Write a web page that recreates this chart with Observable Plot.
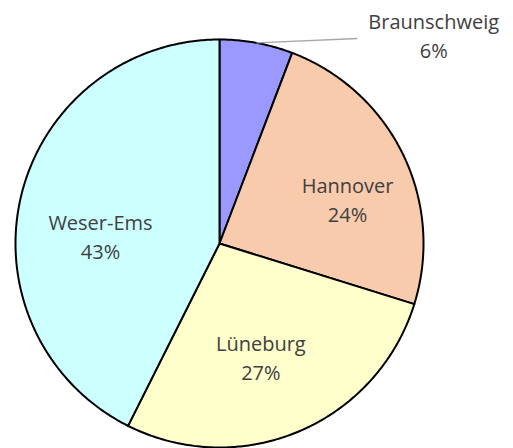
<!DOCTYPE html>
<html>
<head>
<meta charset="utf-8">
<script src="https://cdn.jsdelivr.net/npm/d3@7"></script>
<script src="https://cdn.jsdelivr.net/npm/@observablehq/plot@0.6"></script>
<style>
  html, body { margin: 0; padding: 0; background: #fff; }
  #chart svg { display: block; }
</style>
</head>
<body>
<div id="chart"></div>
<script>
// ---- data ----
const regions = ["Braunschweig", "Hannover", "Lüneburg", "Weser-Ems"];
const shares = [5.8, 24.0, 27.6, 42.6];
const shareLabels = ["6%", "24%", "27%", "43%"];
const colors = ["#9999FF", "#F8CBAD", "#FFFFCC", "#CCFFFF"];

// ---- layout (styles / positions) ----
const W = 513, H = 448;
const CX = 219, CY = 243, R = 204;
const labelRadius = 0.62;
const nudge = { // in radius units (x right, y up)
  "Hannover": [0.07, -0.05],
  "Lüneburg": [-0.04, 0.02],
  "Weser-Ems": [0.02, -0.1]
};
const outside = { "Braunschweig": { lineEnd: [0.676, 1.005], label: [1.05, 1.025] } };

const arcs = d3.pie().sort(null).value(d => d.value)(
  regions.map((name, i) => ({ name, value: shares[i], label: shareLabels[i] }))
);

const polyPoints = [];
const labels = [];
const leaders = [];
arcs.forEach(a => {
  const name = a.data.name;
  polyPoints.push({ name, x: 0, y: 0 });
  const n = Math.max(8, Math.ceil((a.endAngle - a.startAngle) / 0.01));
  for (let k = 0; k <= n; k++) {
    const t = a.startAngle + (a.endAngle - a.startAngle) * k / n;
    polyPoints.push({ name, x: Math.sin(t), y: Math.cos(t) });
  }
  const mid = (a.startAngle + a.endAngle) / 2;
  const text = name + "\n" + a.data.label;
  if (outside[name]) {
    const o = outside[name];
    leaders.push({ x1: Math.sin(mid), y1: Math.cos(mid), x2: o.lineEnd[0], y2: o.lineEnd[1] });
    labels.push({ name, text, x: o.label[0], y: o.label[1] });
  } else {
    const nd = nudge[name] || [0, 0];
    labels.push({ name, text, x: labelRadius * Math.sin(mid) + nd[0], y: labelRadius * Math.cos(mid) + nd[1] });
  }
});

const chart = Plot.plot({
  width: W,
  height: H,
  margin: 0,
  x: { domain: [-1, 1], range: [CX - R, CX + R], axis: null },
  y: { domain: [-1, 1], range: [CY + R, CY - R], axis: null },
  color: { domain: regions, range: colors },
  style: { fontFamily: "'Open Sans', sans-serif", background: "#fff" },
  marks: [
    Plot.line(polyPoints, {
      x: "x", y: "y", z: "name", fill: "name",
      stroke: "#000", strokeWidth: 2, strokeLinejoin: "round",
      curve: "linear-closed"
    }),
    Plot.link(leaders, {
      x1: "x1", y1: "y1", x2: "x2", y2: "y2",
      stroke: "#A6A6A6", strokeWidth: 1.3
    }),
    Plot.text(labels, {
      x: "x", y: "y", text: "text",
      fill: "#404040", fontSize: 20, lineHeight: 1.45,
      textAnchor: "middle"
    })
  ]
});
document.getElementById("chart").append(chart);
</script>
</body>
</html>
